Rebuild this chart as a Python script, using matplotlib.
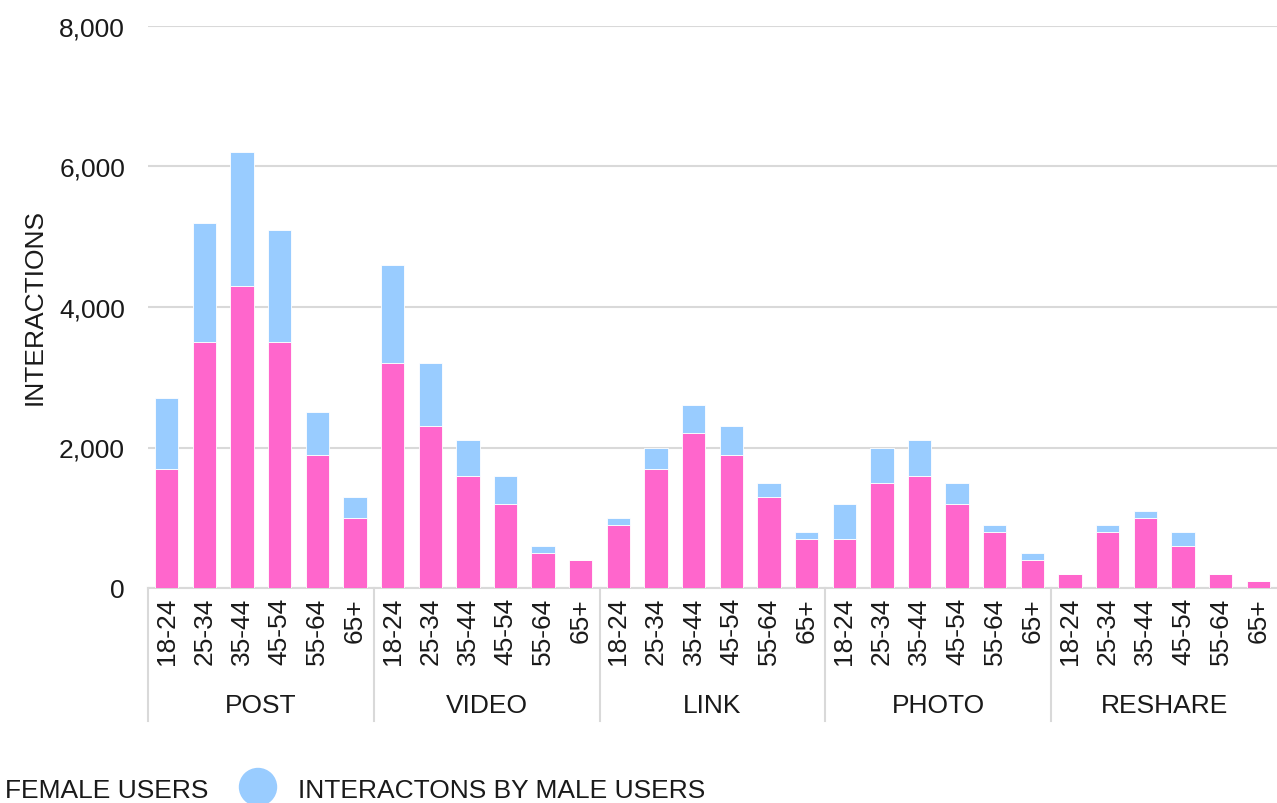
import numpy as np
import matplotlib.pyplot as plt
from matplotlib.patches import Ellipse
from matplotlib.transforms import blended_transform_factory

plt.rcParams['font.family'] = ['Liberation Sans', 'DejaVu Sans']

# 데이터
post_types = ["POST", "VIDEO", "LINK", "PHOTO", "RESHARE"]
age_groups = ["18-24", "25-34", "35-44", "45-54", "55-64", "65+"]

female_post = [1700, 3500, 4300, 3500, 1900, 1000]
female_video = [3200, 2300, 1600, 1200, 500, 400]
female_link = [900, 1700, 2200, 1900, 1300, 700]
female_photo = [700, 1500, 1600, 1200, 800, 400]
female_reshare = [200, 800, 1000, 600, 200, 100]

male_post = [1000, 1700, 1900, 1600, 600, 300]
male_video = [1400, 900, 500, 400, 100, 0]
male_link = [100, 300, 400, 400, 200, 100]
male_photo = [500, 500, 500, 300, 100, 100]
male_reshare = [0, 100, 100, 200, 0, 0]

female = np.array(female_post + female_video + female_link + female_photo + female_reshare)
male = np.array(male_post + male_video + male_link + male_photo + male_reshare)
tick_labels = age_groups * len(post_types)

pink = "#ff66cc"
blue = "#99ccff"
grid_c = "#d9d9d9"
text_c = "#1a1a1a"
fs = 19

W, H = 1277, 804
fig = plt.figure(figsize=(W / 100, H / 100), dpi=100)
ax = fig.add_axes([148 / W, (H - 589) / H, (1277 - 148) / W, (589 - 27) / H])

x = np.arange(len(female))
ax.bar(x, female, width=0.62, color=pink, edgecolor="white", linewidth=0.6, zorder=3)
ax.bar(x, male, width=0.62, bottom=female, color=blue, edgecolor="white", linewidth=0.6, zorder=3)

ax.set_xlim(-0.5, len(female) - 0.5)
ax.set_ylim(0, 8000)
ax.set_yticks(np.arange(0, 8001, 2000))
ax.set_yticklabels([f"{v:,}" for v in range(0, 8001, 2000)], fontsize=fs, color=text_c)
ax.yaxis.grid(True, color=grid_c, linewidth=1.5, zorder=0)
ax.tick_params(axis="y", length=0, pad=16.5)

ax.set_xticks(x)
ax.set_xticklabels(tick_labels, rotation=90, fontsize=fs, color=text_c)
ax.tick_params(axis="x", length=0, pad=6.5)

for s in ["left", "right", "top"]:
    ax.spines[s].set_visible(False)
ax.spines["bottom"].set_color(grid_c)
ax.spines["bottom"].set_linewidth(1.5)

# y축 제목
ax.text((35 - 148) / 1129, (589 - 307) / 562, "INTERACTIONS", transform=ax.transAxes, rotation=90,
        ha="center", va="center", fontsize=fs, color=text_c)

# 그룹 구분선과 그룹 이름
trans = blended_transform_factory(ax.transData, ax.transAxes)
drop = (722 - 589) / (589 - 27)
for g, name in enumerate(post_types):
    left = g * 6 - 0.5
    ax.plot([left, left], [0, -drop], color=grid_c, linewidth=1.5, transform=trans, clip_on=False)
    ax.text(left + 3, -(706 - 589) / (589 - 27), name, transform=trans, ha="center", va="center",
            fontsize=fs, color=text_c)

# 범례 (아래쪽, 잘려 있음)
fig.text(5 / W, 1 - 791 / H, "FEMALE USERS", fontsize=fs, color=text_c, va="center", ha="left")
fig.text(298 / W, 1 - 791 / H, "INTERACTONS BY MALE USERS", fontsize=fs, color=text_c, va="center", ha="left")
fig.patches.append(Ellipse((258 / W, 1 - 788 / H), 37 / W, 37 / H, color=blue, transform=fig.transFigure))
fig.patches.append(Ellipse((-30 / W, 1 - 788 / H), 37 / W, 37 / H, color=pink, transform=fig.transFigure))

fig.savefig("out.png", dpi=100)
